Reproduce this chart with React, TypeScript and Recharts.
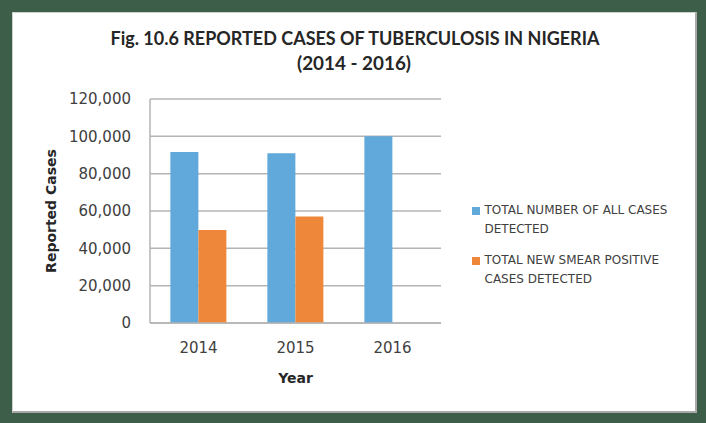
import { BarChart, Bar, XAxis, YAxis, CartesianGrid, Legend } from 'recharts';

const years = ['2014', '2015', '2016'];
const allCases = [91600, 90900, 100000];
const smearPositive: (number | null)[] = [49800, 57000, null];
const yTicks = [0, 20000, 40000, 60000, 80000, 100000, 120000];

const seriesNames = ['TOTAL NUMBER OF ALL CASES|DETECTED', 'TOTAL NEW SMEAR POSITIVE|CASES DETECTED'];
const seriesColors = ['#62A9DB', '#EE8739'];

const data = years.map((year, i) => ({
  year,
  all: allCases[i],
  smear: smearPositive[i],
}));

const gridColor = '#b4b4b4';
const textColor = '#404040';

function LegendBox() {
  return (
    <div style={{ fontFamily: 'DejaVu Sans', fontSize: 12, color: textColor, lineHeight: '18.6px', textAlign: 'left' }}>
      {seriesNames.map((name, i) => (
        <div key={name} style={{ position: 'relative', paddingLeft: 13, marginBottom: 12.8 }}>
          <span
            style={{
              position: 'absolute',
              left: 0,
              top: 5.3,
              width: 8,
              height: 8,
              background: seriesColors[i],
            }}
          />
          {name.split('|').map((line) => (
            <div key={line}>{line}</div>
          ))}
        </div>
      ))}
    </div>
  );
}

export default function App() {
  return (
    <div style={{ position: 'relative', width: 706, height: 423, background: '#3D5E48' }}>
      <style>{`body{margin:0}`}</style>
      {/* white panel */}
      <div
        style={{
          position: 'absolute',
          left: 12,
          top: 12,
          width: 685,
          height: 401,
          boxSizing: 'border-box',
          background: '#fff',
          borderTop: '1px solid #cfcfcf',
          borderLeft: '1px solid #cfcfcf',
          borderRight: '2px solid #a9a9a9',
          borderBottom: '2px solid #a9a9a9',
        }}
      />
      {/* title */}
      <svg width={706} height={90} style={{ position: 'absolute', left: 0, top: 0 }}>
        <text
          x={355}
          y={37}
          textAnchor="middle"
          dominantBaseline="central"
          fontFamily="Lato"
          fontWeight="bold"
          fontSize={19}
          fill="#262626"
          textLength={489}
          lengthAdjust="spacingAndGlyphs"
        >
          Fig. 10.6 REPORTED CASES OF TUBERCULOSIS IN NIGERIA
        </text>
        <text
          x={354}
          y={62}
          textAnchor="middle"
          dominantBaseline="central"
          fontFamily="Lato"
          fontWeight="bold"
          fontSize={19}
          fill="#262626"
          textLength={114}
          lengthAdjust="spacingAndGlyphs"
        >
          (2014 - 2016)
        </text>
      </svg>
      <div style={{ position: 'absolute', left: 0, top: 0 }}>
        <BarChart
          width={706}
          height={423}
          data={data}
          margin={{ top: 99, right: 265, bottom: 40, left: 40 }}
          barCategoryGap="21%"
          barGap={0}
        >
          <CartesianGrid vertical={false} stroke={gridColor} strokeWidth={1.5} />
          <XAxis
            dataKey="year"
            axisLine={{ stroke: gridColor, strokeWidth: 1.5 }}
            tickLine={false}
            tickSize={0}
            tickMargin={19}
            height={60}
            tick={{ fill: textColor, fontFamily: 'DejaVu Sans', fontSize: 15 }}
            label={{
              value: 'Year',
              position: 'insideBottom',
              offset: 0,
              style: { fontFamily: 'DejaVu Sans', fontWeight: 'bold', fontSize: 14, fill: '#262626' },
            }}
          />
          <YAxis
            width={110}
            domain={[0, 120000]}
            ticks={yTicks}
            interval={0}
            axisLine={{ stroke: gridColor, strokeWidth: 1.5 }}
            tickLine={false}
            tickSize={0}
            tickMargin={19}
            tickFormatter={(v: number) => v.toLocaleString('en-US')}
            tick={{ fill: textColor, fontFamily: 'DejaVu Sans', fontSize: 15 }}
            label={{
              value: 'Reported Cases',
              angle: -90,
              position: 'insideLeft',
              offset: 11,
              style: {
                textAnchor: 'middle',
                fontFamily: 'DejaVu Sans',
                fontWeight: 'bold',
                fontSize: 14,
                fill: '#262626',
              },
            }}
          />
          <Legend
            layout="horizontal"
            verticalAlign="middle"
            align="center"
            content={() => <LegendBox />}
            wrapperStyle={{ position: 'absolute', left: 471.5, top: 201.4, width: 220 }}
          />
          <Bar dataKey="all" name="TOTAL NUMBER OF ALL CASES DETECTED" fill={seriesColors[0]} isAnimationActive={false} />
          <Bar dataKey="smear" name="TOTAL NEW SMEAR POSITIVE CASES DETECTED" fill={seriesColors[1]} isAnimationActive={false} />
        </BarChart>
      </div>
    </div>
  );
}
